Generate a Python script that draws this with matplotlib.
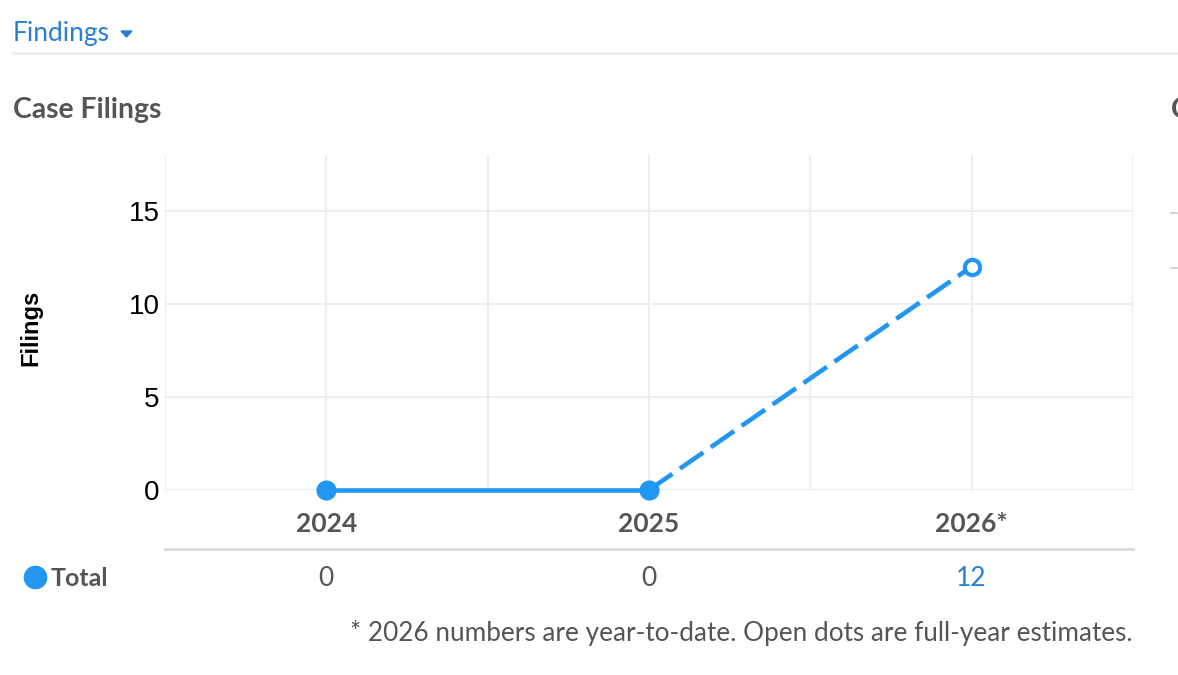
import matplotlib.pyplot as plt
from matplotlib.lines import Line2D
from matplotlib.patches import Polygon
from matplotlib.transforms import blended_transform_factory

years = ["2024", "2025", "2026*"]
totals = [0, 0, 12]
yticks = [0, 5, 10, 15]
footnote = "* 2026 numbers are year-to-date. Open dots are full-year estimates."

W, H = 1178, 675
blue = "#2196f3"
link_blue = "#2a7fd4"
gray = "#555555"
grid_c = "#ececec"

fig = plt.figure(figsize=(W / 100, H / 100), dpi=100)
fig.patch.set_facecolor("white")


def fx(px):
    return px / W


def fy(py):
    return 1 - py / H


ax = fig.add_axes([fx(165), fy(490), fx(1133) - fx(165), fy(155) - fy(490)])
x = list(range(len(years)))

# solid part for full years, dashed toward the estimate
ax.plot(x[:2], totals[:2], color=blue, lw=3.3, solid_capstyle="butt", zorder=3, clip_on=False)
ax.plot(x[1:], totals[1:], color=blue, lw=3.3, dashes=(6.2, 2.0), zorder=3, clip_on=False)
ax.plot(x[:2], totals[:2], "o", color=blue, ms=13.5, mec=blue, zorder=4, clip_on=False)
ax.plot(x[2:], totals[2:], "o", color="white", ms=11, mec=blue, mew=3.0, zorder=4, clip_on=False)

ax.set_xlim(-0.5, 2.5)
ax.set_ylim(0, 18)
ax.set_xticks([i - 0.5 for i in range(4)] + x)
ax.set_xticklabels([""] * 4 + years)
ax.set_yticks(yticks)
ax.set_yticklabels([str(v) for v in yticks], fontsize=20, family="Liberation Sans", color="black")
for lab in ax.get_xticklabels():
    lab.set_fontfamily("Lato")
    lab.set_fontweight("bold")
    lab.set_fontsize(19)
    lab.set_color(gray)
ax.tick_params(axis="both", length=0)
ax.tick_params(axis="x", pad=16)
ax.tick_params(axis="y", pad=4)
ax.grid(True, color=grid_c, lw=1.3)
ax.set_axisbelow(True)
for s in ax.spines.values():
    s.set_visible(False)
ax.axhline(0, color=grid_c, lw=1.3, zorder=1)

fig.text(fx(31), fy(328), "Filings", rotation=90, fontsize=17, fontweight="bold",
         family="Liberation Sans", ha="center", va="center")

# table row below the axis
fig.add_artist(Line2D([fx(165), fx(1133)], [fy(549), fy(549)], color="#dddddd", lw=2.2))
tr = blended_transform_factory(ax.transData, fig.transFigure)
for i, v in enumerate(totals):
    c = link_blue if years[i].endswith("*") else gray
    ax.text(i, fy(578), str(v), transform=tr, ha="center", va="center",
            fontsize=19, family="Lato", color=c)
fig.add_artist(Line2D([fx(35)], [fy(577)], marker="o", ms=16, color=blue, lw=0))
fig.text(fx(51), fy(578), "Total", fontsize=18, fontweight="bold", family="Lato",
         color=gray, ha="left", va="center")

fig.text(fx(1133), fy(633), footnote, fontsize=18.8, family="Lato", color=gray,
         ha="right", va="center")

# header
fig.text(fx(13), fy(33), "Findings", fontsize=19, family="Lato", color=link_blue,
         ha="left", va="center")
fig.add_artist(Polygon([[fx(121), fy(31)], [fx(132), fy(31)], [fx(126.5), fy(37)]],
                       closed=True, color=link_blue, transform=fig.transFigure))
fig.add_artist(Line2D([fx(13), 1], [fy(53), fy(53)], color="#eeeeee", lw=2.2))
fig.text(fx(13), fy(110), "Case Filings", fontsize=20.4, fontweight="bold", family="Lato",
         color=gray, ha="left", va="center")

# edge of the neighbouring panel
fig.text(fx(1171), fy(110), "C", fontsize=20.4, fontweight="bold", family="Lato",
         color=gray, ha="left", va="center")
fig.add_artist(Line2D([fx(1171), 1], [fy(213), fy(213)], color="#cccccc", lw=1.2))
fig.add_artist(Line2D([fx(1171), 1], [fy(268), fy(268)], color="#cccccc", lw=1.2))

fig.savefig("out.png", dpi=100)
